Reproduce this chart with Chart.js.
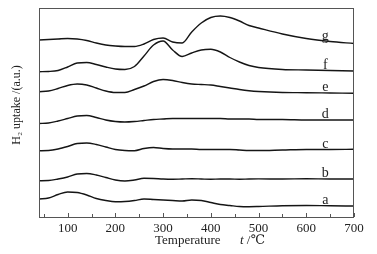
<!DOCTYPE html>
<html>
<head>
<meta charset="utf-8">
<script src="https://cdn.jsdelivr.net/npm/chart.js@4.4.0/dist/chart.umd.min.js"></script>
<style>
  html, body { margin: 0; padding: 0; background: #fff; }
  #wrap { width: 377px; height: 254px; }
</style>
</head>
<body>
<div id="wrap"><canvas id="tpr"></canvas></div>
<script>
// Температури (°C)
const temps = [40, 60, 80, 100, 120, 140, 160, 180, 200, 220, 240, 260, 280, 300, 320, 340,
               360, 380, 400, 420, 440, 460, 480, 500, 550, 600, 650, 700];

// Криві H2-TPR (зі зсувом по вертикалі, a.u.)
const curveNames = ['a', 'b', 'c', 'd', 'e', 'f', 'g'];
const curveA = [18, 19, 22.5, 25, 24.5, 22, 18.5, 16.5, 15.3, 15.5, 16.5, 18, 17.5, 17, 16.5, 16,
                17, 16.5, 14.5, 12.5, 11.5, 10.5, 10.3, 10.5, 11.3, 11.5, 11.2, 11];
const curveB = [36.3, 36.5, 38, 40, 43, 43.5, 42, 39.5, 37, 36, 37, 38.7, 38.5, 38, 37.8, 38,
                38.2, 38, 37.8, 38, 38, 37.8, 38, 38.1, 38, 38.2, 38, 38];
const curveC = [66.3, 66.5, 68, 70.5, 73.5, 74, 72.5, 70, 67.5, 66.5, 66.3, 68.5, 69.5, 68.5, 68, 68,
                68, 67.5, 67.5, 67.5, 67.5, 67, 66.5, 66.5, 67, 67.5, 67.5, 67.7];
const curveD = [93.5, 94, 96, 98.5, 101, 101.5, 99.5, 97, 95.5, 95, 95.5, 96.5, 97.5, 98, 98.5, 98.5,
                98.5, 98.5, 98.5, 98.5, 98, 98, 98, 97.5, 97.5, 97, 97, 97];
const curveE = [125.3, 126, 128.5, 131.5, 133, 132, 129, 126, 124.5, 124.5, 127.5, 131, 135.5, 137.5, 136.5, 134.5,
                133, 132.5, 132, 130.5, 129, 127.5, 126.3, 125.5, 124.5, 124.3, 124, 123.7];
const curveF = [145.3, 145.5, 146.5, 150, 154, 154.5, 152.5, 150, 148, 147.5, 150.5, 161, 172, 176, 167, 160.5,
                164, 167, 167.7, 165, 159.5, 155, 151.5, 149.5, 147.5, 147, 146.5, 146];
const curveG = [177, 177.5, 178, 178.5, 178, 176.5, 174, 172, 171, 170.5, 170.5, 173, 177.5, 179, 175, 174,
                185, 194, 199.5, 201, 199.5, 196, 191.5, 189, 183, 178.5, 175.5, 173.5];

// Підписи осей
const xTicks = [100, 200, 300, 400, 500, 600, 700];
const xMinorTicks = [50, 150, 250, 350, 450, 550, 650];
const yTitle = 'H\u2082 uptake /(a.u.)';
const xTitle = 'Temperature';
const xUnit = ' /\u2103';

const allCurves = [curveA, curveB, curveC, curveD, curveE, curveF, curveG];
const SERIF = '"Liberation Serif", "DejaVu Serif", serif';

// Декор: рамка, внутрішні риски, назви осей, літери кривих
const decor = {
    id: 'decor',
    afterDraw(chart) {
        const { ctx, chartArea: area, scales } = chart;
        const x = scales.x, y = scales.y;
        ctx.save();
        ctx.strokeStyle = '#555';
        ctx.lineWidth = 1;
        ctx.strokeRect(area.left + 0.5, area.top + 0.5, area.right - area.left - 1, area.bottom - area.top);

        ctx.beginPath();
        xTicks.forEach(v => {
            const px = Math.round(x.getPixelForValue(v)) + 0.5;
            ctx.moveTo(px, area.bottom);
            ctx.lineTo(px, area.bottom - 4);
        });
        xMinorTicks.forEach(v => {
            const px = Math.round(x.getPixelForValue(v)) + 0.5;
            ctx.moveTo(px, area.bottom);
            ctx.lineTo(px, area.bottom - 3);
        });
        ctx.stroke();

        ctx.fillStyle = '#222';
        // назва осі X
        ctx.textBaseline = 'middle';
        ctx.textAlign = 'left';
        ctx.font = '13px ' + SERIF;
        const tx = 155, ty = 241;
        ctx.fillText(xTitle, tx, ty);
        const w = ctx.measureText(xTitle + '      ').width;
        ctx.font = 'italic 13px ' + SERIF;
        ctx.fillText('t', tx + w, ty);
        const wt = ctx.measureText('t').width;
        ctx.font = '13px ' + SERIF;
        ctx.fillText(xUnit, tx + w + wt, ty);

        // назва осі Y
        ctx.save();
        ctx.translate(17, 105);
        ctx.rotate(-Math.PI / 2);
        ctx.textAlign = 'center';
        ctx.font = '12px ' + SERIF;
        ctx.fillText(yTitle, 0, 0);
        ctx.restore();

        // літери кривих
        ctx.font = '14px ' + SERIF;
        ctx.textAlign = 'center';
        ctx.textBaseline = 'alphabetic';
        const idx = temps.indexOf(650);
        curveNames.forEach((name, i) => {
            const px = x.getPixelForValue(640);
            const py = y.getPixelForValue(allCurves[i][idx]) - 2;
            ctx.fillText(name, px, py);
        });
        ctx.restore();
    }
};

function createTprChart() {
    const ctx = document.getElementById('tpr').getContext('2d');
    new Chart(ctx, {
        type: 'line',
        data: {
            datasets: allCurves.map((vals, i) => ({
                label: curveNames[i],
                data: temps.map((t, j) => ({ x: t, y: vals[j] })),
                borderColor: '#151515',
                borderWidth: 1.4,
                pointRadius: 0,
                fill: false,
                cubicInterpolationMode: 'monotone'
            }))
        },
        options: {
            responsive: true,
            maintainAspectRatio: false,
            animation: false,
            layout: { padding: { left: 39, right: 23, top: 8, bottom: 0 } },
            plugins: {
                legend: { display: false },
                tooltip: { enabled: false }
            },
            scales: {
                x: {
                    type: 'linear',
                    min: 40,
                    max: 700,
                    grid: { display: false, drawTicks: false },
                    border: { display: false },
                    ticks: {
                        stepSize: 100,
                        includeBounds: false,
                        padding: 4,
                        color: '#222',
                        font: { family: SERIF, size: 13 },
                        maxRotation: 0
                    },
                    afterFit(scale) { scale.height = 37; }
                },
                y: {
                    display: false,
                    min: 0,
                    max: 209
                }
            }
        },
        plugins: [decor]
    });
}

document.addEventListener('DOMContentLoaded', createTprChart);
</script>
</body>
</html>
